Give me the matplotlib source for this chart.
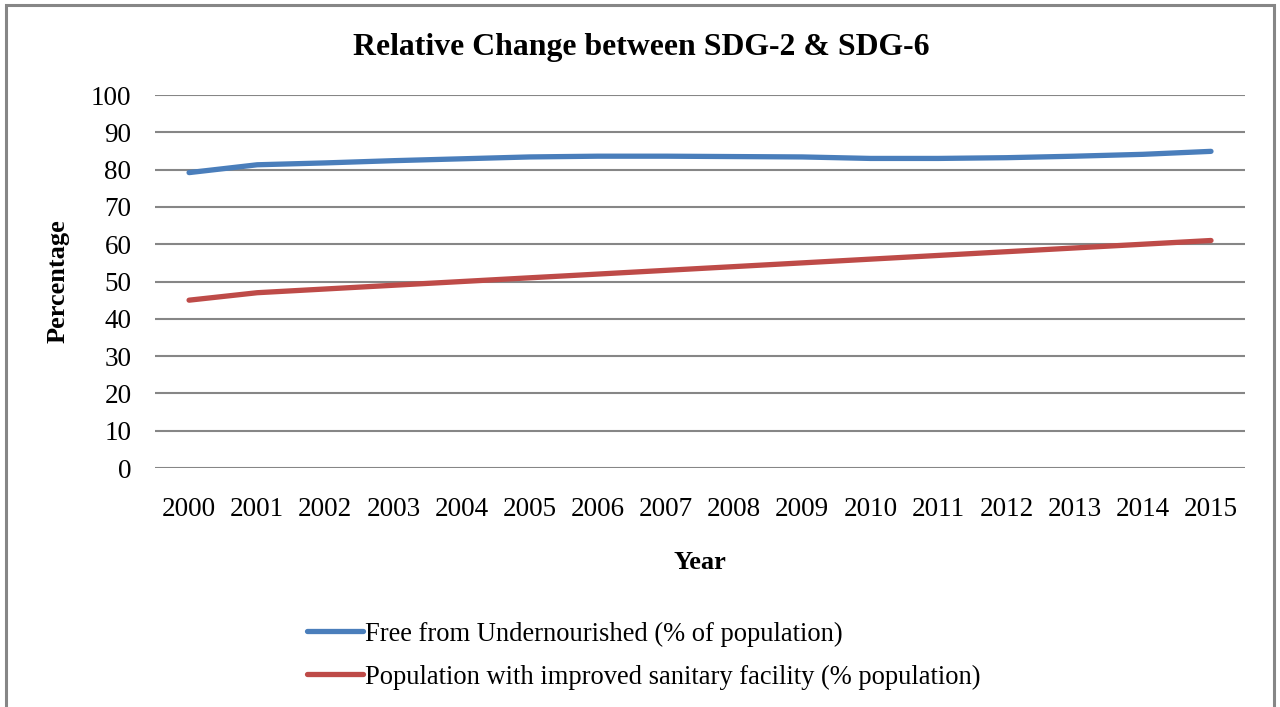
import numpy as np
import matplotlib.pyplot as plt
from matplotlib.patches import Rectangle

plt.rcParams['font.family'] = ['Liberation Serif', 'DejaVu Serif']

years = [str(y) for y in range(2000, 2016)]
undernourished_free = [79.2, 81.3, 81.8, 82.4, 82.9, 83.4, 83.6, 83.6,
                       83.5, 83.4, 83.0, 83.0, 83.2, 83.6, 84.1, 84.9]
sanitation = [45, 47, 48, 49, 50, 51, 52, 53,
              54, 55, 56, 57, 58, 59, 60, 61]
y_ticks = list(range(0, 101, 10))

fig = plt.figure(figsize=(12.8, 7.07), dpi=100)
ax = fig.add_axes([0.1211, 0.338, 0.8516, 0.5276])

x = np.arange(len(years))
ax.plot(x, undernourished_free, color='#4A7EBB', lw=3.8,
        solid_capstyle='round', solid_joinstyle='round',
        label='Free from Undernourished (% of population)')
ax.plot(x, sanitation, color='#BE4B48', lw=3.8,
        solid_capstyle='round', solid_joinstyle='round',
        label='Population with improved sanitary facility (% population)')

ax.set_xlim(-0.5, len(years) - 0.5)
ax.set_ylim(0, 100)
ax.set_yticks(y_ticks)
ax.set_xticks(x)
ax.set_xticklabels(years)
ax.tick_params(length=0, labelsize=19.5, colors='black')
ax.tick_params(axis='x', pad=21)
ax.tick_params(axis='y', pad=17)
ax.grid(axis='y', color='#868686', lw=1.5)
ax.set_axisbelow(True)
for s in ax.spines.values():
    s.set_visible(False)

fig.text(0.501, 0.933, 'Relative Change between SDG-2 & SDG-6',
         ha='center', va='center', fontsize=22.9, fontweight='bold')
fig.text(0.045, 0.6025, 'Percentage', rotation=90, ha='center', va='center',
         fontsize=19, fontweight='bold')
fig.text(0.547, 0.204, 'Year', ha='center', va='center',
         fontsize=19, fontweight='bold')

fig.legend(loc='upper left', bbox_to_anchor=(0.240, 0.121), frameon=False,
           fontsize=19.1, handlelength=2.1, handletextpad=0.08,
           labelspacing=0.68, borderpad=0, borderaxespad=0)

# outer chart frame
fig.patches.append(Rectangle((0.0047, -0.05), 0.9906, 1.043,
                             transform=fig.transFigure, fill=False,
                             edgecolor='#868686', lw=2.2))

fig.savefig('out.png', dpi=100)
